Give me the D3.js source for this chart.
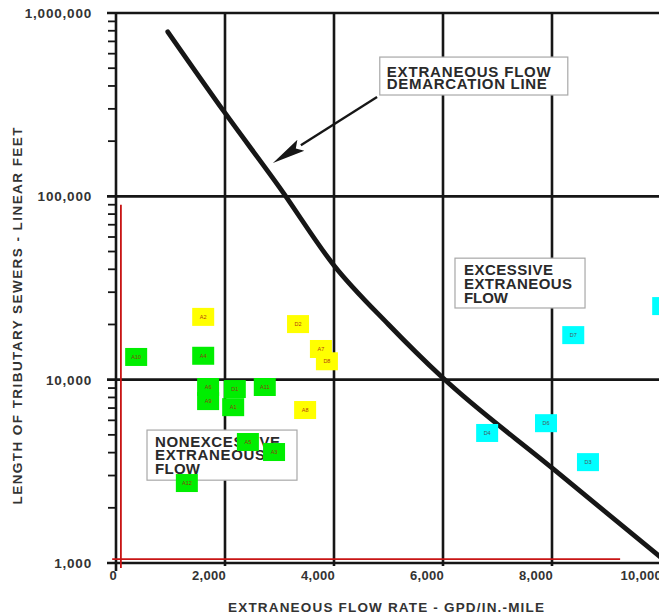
<!DOCTYPE html>
<html>
<head>
<meta charset="utf-8">
<script src="https://cdn.jsdelivr.net/npm/d3@7"></script>
<style>
  html, body { margin: 0; padding: 0; background: #fff; }
  svg { display: block; }
  text { font-family: "Liberation Sans", Arial, Helvetica, sans-serif; }
</style>
</head>
<body>
<svg id="chart" width="659" height="616"></svg>
<script>
// Axis ticks
const xTicks = [0, 2000, 4000, 6000, 8000, 10000];
const xTickLabels = ["0", "2,000", "4,000", "6,000", "8,000", "10,000"];
const yTicks = [1000, 10000, 100000, 1000000];
const yTickLabels = ["1,000", "10,000", "100,000", "1,000,000"];

// Monitored sub-basins: flow rate (GPD/in.-mile) and tributary sewer length (ft)
const siteNames  = ["A10", "A4", "A2", "A6", "A9", "D1", "A1", "A11", "A8", "D2", "A7", "D8", "A5", "A3", "A12", "D7", "D6", "D4", "D3", "D5"];
const siteFlow   = [370, 1600, 1600, 1690, 1690, 2180, 2150, 2730, 3470, 3340, 3760, 3870, 2420, 2900, 1300, 8390, 7890, 6810, 8660, 10040];
const siteLength = [13300, 13500, 22000, 9120, 7640, 8890, 7080, 9120, 6830, 20100, 14700, 12600, 4570, 4030, 2730, 17500, 5790, 5120, 3550, 25200];
const siteClass  = ["ok", "ok", "watch", "ok", "ok", "ok", "ok", "ok", "watch", "watch", "watch", "watch", "ok", "ok", "ok", "excess", "excess", "excess", "excess", "excess"];

// Extraneous flow demarcation line
const lineFlow   = [950, 2000, 3000, 4000, 5000, 6000, 8000, 10000];
const lineLength = [790000, 285000, 112000, 42000, 20000, 10200, 3300, 1070];

const classFill  = { ok: "#00ee00", watch: "#ffff00", excess: "#00ffff" };
const classInk   = { ok: "#8a3a12", watch: "#b23a10", excess: "#4a5560" };

const svg = d3.select("#chart");
const x = d3.scaleLinear().domain([0, 10000]).range([116, 661]);
const y = d3.scaleLog().domain([1000, 1000000]).range([563, 13]);
const ink = "#161616";
const right = 659;

// ---- grid and frame ----
const grid = svg.append("g");
grid.selectAll("line.v").data(xTicks.filter(d => d > 0)).join("line")
  .attr("x1", d => x(d)).attr("x2", d => x(d))
  .attr("y1", y(1000000)).attr("y2", y(1000) + 3)
  .attr("stroke", ink).attr("stroke-width", 2.6);
grid.selectAll("line.h").data(yTicks).join("line")
  .attr("x1", x(0) - 9).attr("x2", right)
  .attr("y1", d => y(d)).attr("y2", d => y(d))
  .attr("stroke", ink).attr("stroke-width", 2.6);
// left axis
grid.append("line")
  .attr("x1", x(0)).attr("x2", x(0))
  .attr("y1", y(1000000)).attr("y2", y(1000) + 8)
  .attr("stroke", ink).attr("stroke-width", 2.6);

// minor log ticks on the left axis
const minor = [];
[1000, 10000, 100000].forEach(dec => { for (let k = 2; k <= 9; k++) minor.push(dec * k); });
grid.selectAll("line.m").data(minor).join("line")
  .attr("x1", x(0) - 8).attr("x2", x(0))
  .attr("y1", d => y(d)).attr("y2", d => y(d))
  .attr("stroke", ink).attr("stroke-width", 1.8);

// ---- tick labels ----
svg.append("g").selectAll("text").data(yTicks).join("text")
  .attr("x", 92).attr("y", d => y(d)).attr("dy", "0.36em")
  .attr("text-anchor", "end")
  .attr("font-size", 13.5).attr("font-weight", "bold").attr("fill", "#333")
  .attr("letter-spacing", 0.8)
  .text((d, i) => yTickLabels[i]);

svg.append("g").selectAll("text").data(xTicks).join("text")
  .attr("x", d => x(d) + 1).attr("y", 580)
  .attr("text-anchor", "end")
  .attr("font-size", 13).attr("font-weight", "bold").attr("fill", "#333")
  .attr("letter-spacing", 0.3)
  .text((d, i) => xTickLabels[i]);

// ---- axis titles ----
svg.append("text")
  .attr("transform", "translate(22,316) rotate(-90)")
  .attr("text-anchor", "middle")
  .attr("font-size", 13.5).attr("font-weight", "bold").attr("fill", "#333")
  .attr("textLength", 377).attr("lengthAdjust", "spacing")
  .text("LENGTH OF TRIBUTARY SEWERS - LINEAR FEET");

svg.append("text")
  .attr("x", 386).attr("y", 612)
  .attr("text-anchor", "middle")
  .attr("font-size", 13.5).attr("font-weight", "bold").attr("fill", "#333")
  .attr("textLength", 316).attr("lengthAdjust", "spacing")
  .text("EXTRANEOUS FLOW RATE - GPD/IN.-MILE");

// ---- labelled boxes ----
function noteBox(x0, x1, yTop, yBot, lines) {
  const g = svg.append("g");
  const bx = x(x0), by = y(yTop);
  g.append("rect")
    .attr("x", bx).attr("y", by)
    .attr("width", x(x1) - bx).attr("height", y(yBot) - by)
    .attr("fill", "#fff").attr("stroke", "#a8a8a8").attr("stroke-width", 1.2);
  lines.forEach(l => {
    g.append("text")
      .attr("x", bx + l.dx).attr("y", by + l.dy)
      .attr("font-size", l.size).attr("font-weight", "bold").attr("fill", "#2a2a2a")
      .attr("textLength", l.w).attr("lengthAdjust", "spacing")
      .text(l.t);
  });
}

noteBox(4840, 8290, 575000, 357000, [
  { t: "EXTRANEOUS FLOW", dx: 7, dy: 20, w: 164, size: 15 },
  { t: "DEMARCATION LINE", dx: 7, dy: 32, w: 160, size: 15 }
]);
noteBox(6220, 8606, 46000, 24600, [
  { t: "EXCESSIVE", dx: 9, dy: 17, w: 89, size: 15 },
  { t: "EXTRANEOUS", dx: 9, dy: 30.5, w: 108, size: 15 },
  { t: "FLOW", dx: 9, dy: 45, w: 44, size: 15 }
]);
noteBox(569, 3321, 5310, 2830, [
  { t: "NONEXCESSIVE", dx: 8, dy: 17, w: 125, size: 15 },
  { t: "EXTRANEOUS", dx: 8, dy: 30, w: 110, size: 15 },
  { t: "FLOW", dx: 8, dy: 44, w: 45, size: 15 }
]);

// ---- arrow pointing at the demarcation line ----
(function () {
  const tx = x(4790), ty = y(348000);   // tail
  const hx = x(2880), hy = y(152000);   // tip
  const ang = Math.atan2(hy - ty, hx - tx);
  const L = 33, W = 6.5;
  const bx = hx - L * Math.cos(ang), by = hy - L * Math.sin(ang);
  const nx = -Math.sin(ang), ny = Math.cos(ang);
  svg.append("line")
    .attr("x1", tx).attr("y1", ty).attr("x2", bx).attr("y2", by)
    .attr("stroke", ink).attr("stroke-width", 2.3);
  svg.append("path")
    .attr("d", `M${hx},${hy}L${bx + nx * W},${by + ny * W}L${bx + (hx - bx) * 0.18},${by + (hy - by) * 0.18}L${bx - nx * W},${by - ny * W}Z`)
    .attr("fill", ink);
})();

// ---- demarcation line ----
const linePts = lineFlow.map((f, i) => [x(f), y(lineLength[i])]);
svg.append("path")
  .attr("d", d3.line().curve(d3.curveMonotoneX)(linePts))
  .attr("fill", "none").attr("stroke", ink)
  .attr("stroke-width", 4.8).attr("stroke-linecap", "round");

// ---- red reference lines ----
svg.append("line")
  .attr("x1", x(90)).attr("x2", x(90))
  .attr("y1", y(90000)).attr("y2", y(940))
  .attr("stroke", "#c81414").attr("stroke-width", 1.8);
svg.append("line")
  .attr("x1", x(-70)).attr("x2", x(9250))
  .attr("y1", y(1050)).attr("y2", y(1050))
  .attr("stroke", "#c81414").attr("stroke-width", 1.8);

// ---- sub-basin markers ----
const sites = siteNames.map((n, i) => ({ n, f: siteFlow[i], l: siteLength[i], c: siteClass[i] }));
const mw = 22, mh = 18;
const mk = svg.append("g").selectAll("g").data(sites).join("g")
  .attr("transform", d => `translate(${x(d.f)},${y(d.l)})`);
mk.append("rect")
  .attr("x", -mw / 2).attr("y", -mh / 2).attr("width", mw).attr("height", mh)
  .attr("fill", d => classFill[d.c]);
mk.append("text")
  .attr("text-anchor", "middle").attr("dy", "0.35em")
  .attr("font-size", 5.5).attr("fill", d => classInk[d.c])
  .text(d => d.n);
</script>
</body>
</html>
